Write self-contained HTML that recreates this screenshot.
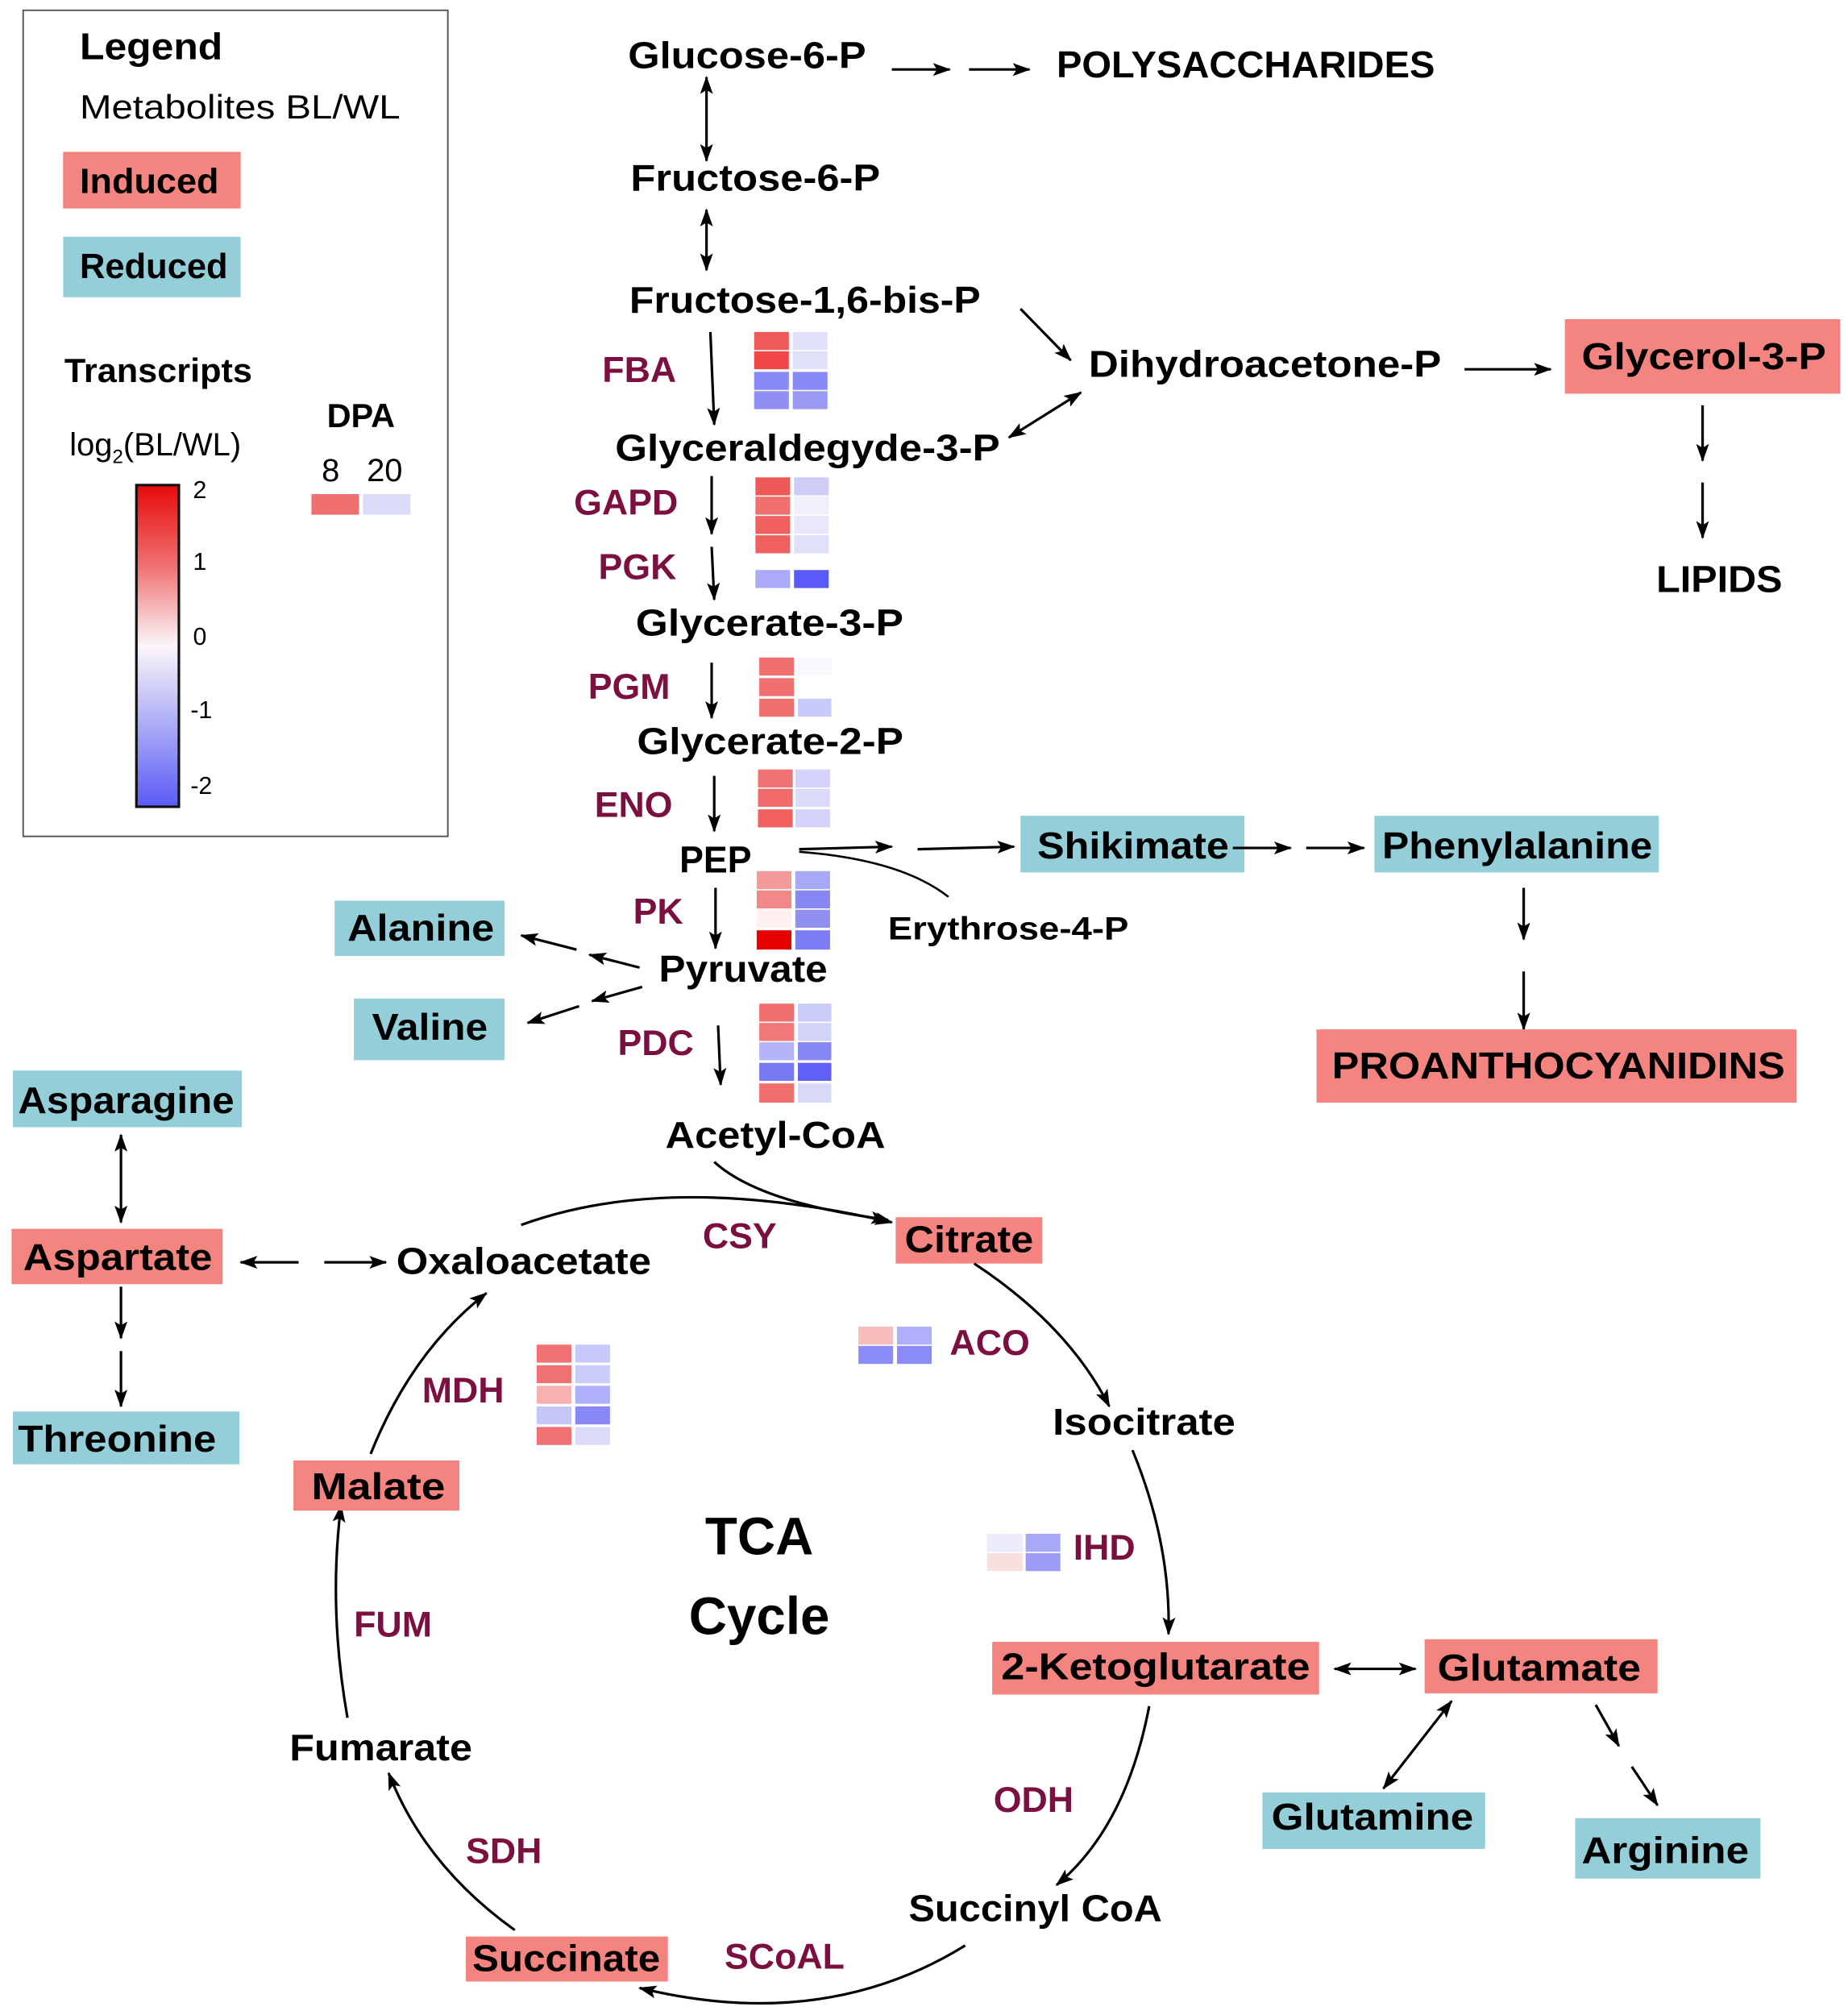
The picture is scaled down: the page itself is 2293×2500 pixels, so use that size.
<!DOCTYPE html>
<html><head><meta charset="utf-8"><style>
html,body{margin:0;padding:0;background:#fff}
svg{display:block}
text{font-family:"Liberation Sans",sans-serif;font-weight:bold;fill:#000}
.m{font-size:29px}
.e{font-size:28px;fill:#7b1040}
.n{font-weight:normal}
.a{fill:none;stroke:#000;stroke-width:2;marker-end:url(#ah)}
.d{fill:none;stroke:#000;stroke-width:2;marker-end:url(#ah);marker-start:url(#ah)}
.R{fill:#f4847f}.B{fill:#94ced8}
</style></head><body>
<svg width="2293" height="2500" viewBox="0 0 1436 1566" preserveAspectRatio="none" xmlns="http://www.w3.org/2000/svg">
<defs>
<marker id="ah" markerUnits="userSpaceOnUse" markerWidth="16" markerHeight="12" refX="13" refY="5" orient="auto-start-reverse"><path d="M0,0 L14,5 L0,10 L3,5 z" fill="#000"/></marker>
<linearGradient id="cb" x1="0" y1="0" x2="0" y2="1">
<stop offset="0" stop-color="#e80a0a"/><stop offset="0.25" stop-color="#f07070"/><stop offset="0.5" stop-color="#fbf6fa"/><stop offset="0.75" stop-color="#aaaaf6"/><stop offset="1" stop-color="#5a5af6"/></linearGradient>
</defs>

<!-- Legend -->
<rect x="18" y="8" width="330" height="642" fill="none" stroke="#555" stroke-width="1.2"/>
<text x="62" y="46" font-size="29" textLength="111" lengthAdjust="spacingAndGlyphs">Legend</text>
<text x="62" y="92" font-size="26" class="n" textLength="249" lengthAdjust="spacingAndGlyphs">Metabolites BL/WL</text>
<rect x="49" y="118" width="138" height="44" class="R"/><text x="62" y="150" font-size="27" textLength="108" lengthAdjust="spacingAndGlyphs">Induced</text>
<rect x="49" y="184" width="138" height="47" class="B"/><text x="62" y="216" font-size="27" textLength="115" lengthAdjust="spacingAndGlyphs">Reduced</text>
<text x="50" y="297" font-size="26" textLength="146" lengthAdjust="spacingAndGlyphs">Transcripts</text>
<text x="54" y="354" font-size="25" class="n">log<tspan font-size="15" dy="6">2</tspan><tspan dy="-6">(BL/WL)</tspan></text>
<rect x="106" y="377" width="33" height="250" fill="url(#cb)" stroke="#111" stroke-width="2"/>
<g font-size="19"><text x="150" y="387" class="n">2</text><text x="150" y="443" class="n">1</text><text x="150" y="501" class="n">0</text><text x="148" y="558" class="n">-1</text><text x="148" y="617" class="n">-2</text></g>
<text x="254" y="332" font-size="26">DPA</text>
<text x="250" y="374" font-size="25" class="n">8</text><text x="285" y="374" font-size="25" class="n">20</text>
<rect x="242" y="384" width="37" height="16" fill="#f07070"/><rect x="282" y="384" width="37" height="16" fill="#dcdcf8"/>

<!-- Glycolysis -->
<g lengthAdjust="spacingAndGlyphs">
<text x="488" y="53" class="m" textLength="185" lengthAdjust="spacingAndGlyphs">Glucose-6-P</text>
<path class="a" d="M693,54 L738,54"/><path class="a" d="M753,54 L800,54"/>
<text x="821" y="60" class="m" textLength="294" lengthAdjust="spacingAndGlyphs">POLYSACCHARIDES</text>
<path class="d" d="M549,60 L549,125"/>
<text x="490" y="148" class="m" textLength="194" lengthAdjust="spacingAndGlyphs">Fructose-6-P</text>
<path class="d" d="M549,163 L549,210"/>
<text x="489" y="243" class="m" textLength="273" lengthAdjust="spacingAndGlyphs">Fructose-1,6-bis-P</text>
<path class="a" d="M793,240 L832,280"/>
<text x="846" y="293" class="m" textLength="274" lengthAdjust="spacingAndGlyphs">Dihydroacetone-P</text>
<path class="a" d="M1138,287 L1205,287"/>
<rect x="1216" y="248" width="214" height="58" class="R"/><text x="1229" y="287" class="m" textLength="190" lengthAdjust="spacingAndGlyphs">Glycerol-3-P</text>
<path class="a" d="M1323,315 L1323,358"/><path class="a" d="M1323,375 L1323,418"/>
<text x="1287" y="460" class="m" textLength="98" lengthAdjust="spacingAndGlyphs">LIPIDS</text>
<text x="468" y="297" class="e">FBA</text>
<path class="a" d="M552,258 L555,330"/>
<text x="478" y="358" class="m" textLength="299" lengthAdjust="spacingAndGlyphs">Glyceraldegyde-3-P</text>
<path class="d" d="M784,340 L840,305"/>
<text x="446" y="400" class="e">GAPD</text>
<path class="a" d="M553,370 L553,415"/>
<text x="465" y="450" class="e">PGK</text>
<path class="a" d="M553,425 L555,466"/>
<text x="494" y="494" class="m" textLength="208" lengthAdjust="spacingAndGlyphs">Glycerate-3-P</text>
<text x="457" y="543" class="e">PGM</text>
<path class="a" d="M553,515 L553,558"/>
<text x="495" y="586" class="m" textLength="207" lengthAdjust="spacingAndGlyphs">Glycerate-2-P</text>
<text x="462" y="635" class="e">ENO</text>
<path class="a" d="M555,603 L555,646"/>
<text x="528" y="678" class="m" textLength="56" lengthAdjust="spacingAndGlyphs">PEP</text>
<path class="a" d="M621,660 L693,658"/><path class="a" d="M713,660 L788,658"/>
<path d="M621,662 Q700,668 737,697" fill="none" stroke="#000" stroke-width="1.6"/>
<text x="690" y="730" font-size="25" textLength="187" lengthAdjust="spacingAndGlyphs">Erythrose-4-P</text>
<rect x="793" y="634" width="174" height="44" class="B"/><text x="806" y="667" class="m" textLength="149" lengthAdjust="spacingAndGlyphs">Shikimate</text>
<path class="a" d="M958,659 L1003,659"/><path class="a" d="M1015,659 L1060,659"/>
<rect x="1068" y="634" width="221" height="44" class="B"/><text x="1074" y="667" class="m" textLength="210" lengthAdjust="spacingAndGlyphs">Phenylalanine</text>
<path class="a" d="M1184,690 L1184,730"/><path class="a" d="M1184,755 L1184,800"/>
<rect x="1023" y="800" width="373" height="57" class="R"/><text x="1035" y="838" class="m" textLength="352" lengthAdjust="spacingAndGlyphs">PROANTHOCYANIDINS</text>
<text x="492" y="718" class="e">PK</text>
<path class="a" d="M556,690 L556,737"/>
<text x="512" y="763" class="m" textLength="131" lengthAdjust="spacingAndGlyphs">Pyruvate</text>
<rect x="260" y="700" width="132" height="43" class="B"/><text x="270" y="731" class="m" textLength="114" lengthAdjust="spacingAndGlyphs">Alanine</text>
<path class="a" d="M497,752 L458,742"/><path class="a" d="M448,738 L405,727"/>
<rect x="275" y="776" width="117" height="48" class="B"/><text x="289" y="808" class="m" textLength="90" lengthAdjust="spacingAndGlyphs">Valine</text>
<path class="a" d="M499,767 L460,778"/><path class="a" d="M450,782 L410,795"/>
<text x="480" y="820" class="e">PDC</text>
<path class="a" d="M558,797 L560,843"/>
<text x="517" y="892" class="m" textLength="171" lengthAdjust="spacingAndGlyphs">Acetyl-CoA</text>
<path class="a" d="M555,903 Q590,935 690,948"/>
</g>

<!-- heatmaps -->
<g stroke="none">
<rect x="586" y="258" width="27" height="14" fill="#f05a5a"/><rect x="616" y="258" width="27" height="14" fill="#e0e0fa"/>
<rect x="586" y="273" width="27" height="14" fill="#f04848"/><rect x="616" y="273" width="27" height="14" fill="#e0e0f8"/>
<rect x="586" y="289" width="27" height="14" fill="#8888f8"/><rect x="616" y="289" width="27" height="14" fill="#8a8af6"/>
<rect x="586" y="304" width="27" height="14" fill="#9090f4"/><rect x="616" y="304" width="27" height="14" fill="#9a9af2"/>

<rect x="587" y="371" width="27" height="14" fill="#f05858"/><rect x="617" y="371" width="27" height="14" fill="#cdcdf8"/>
<rect x="587" y="386" width="27" height="14" fill="#f07070"/><rect x="617" y="386" width="27" height="14" fill="#f0f0fc"/>
<rect x="587" y="401" width="27" height="14" fill="#f06060"/><rect x="617" y="401" width="27" height="14" fill="#e8e8fa"/>
<rect x="587" y="416" width="27" height="14" fill="#f06060"/><rect x="617" y="416" width="27" height="14" fill="#e0e0f8"/>
<rect x="587" y="443" width="27" height="14" fill="#aaaaf8"/><rect x="617" y="443" width="27" height="14" fill="#5a5af8"/>

<rect x="590" y="511" width="27" height="14" fill="#f07070"/><rect x="620" y="511" width="26" height="14" fill="#f8f8fe"/>
<rect x="590" y="527" width="27" height="14" fill="#f07070"/>
<rect x="590" y="543" width="27" height="14" fill="#f07070"/><rect x="620" y="543" width="26" height="14" fill="#cacafa"/>

<rect x="589" y="598" width="27" height="14" fill="#f07272"/><rect x="618" y="598" width="27" height="14" fill="#d4d4fa"/>
<rect x="589" y="613" width="27" height="14" fill="#f06a6a"/><rect x="618" y="613" width="27" height="14" fill="#dadafa"/>
<rect x="589" y="629" width="27" height="14" fill="#f06060"/><rect x="618" y="629" width="27" height="14" fill="#d4d4fa"/>

<rect x="588" y="677" width="27" height="14" fill="#f49a9a"/><rect x="618" y="677" width="27" height="14" fill="#a8a8f8"/>
<rect x="588" y="692" width="27" height="14" fill="#f28888"/><rect x="618" y="692" width="27" height="14" fill="#8888f4"/>
<rect x="588" y="707" width="27" height="14" fill="#fef0f0"/><rect x="618" y="707" width="27" height="14" fill="#9090f0"/>
<rect x="588" y="723" width="27" height="15" fill="#e80000"/><rect x="618" y="723" width="27" height="15" fill="#7c7cf4"/>

<rect x="590" y="780" width="27" height="14" fill="#f07070"/><rect x="620" y="780" width="26" height="14" fill="#ccccf8"/>
<rect x="590" y="795" width="27" height="14" fill="#f07878"/><rect x="620" y="795" width="26" height="14" fill="#d4d4f8"/>
<rect x="590" y="810" width="27" height="14" fill="#b4b4f8"/><rect x="620" y="810" width="26" height="14" fill="#8888f4"/>
<rect x="590" y="826" width="27" height="14" fill="#7878f0"/><rect x="620" y="826" width="26" height="14" fill="#6060f4"/>
<rect x="590" y="842" width="27" height="15" fill="#f07070"/><rect x="620" y="842" width="26" height="15" fill="#d8d8f8"/>

<rect x="667" y="1031" width="27" height="14" fill="#f8bcbc"/><rect x="697" y="1031" width="27" height="14" fill="#b0b0fa"/>
<rect x="667" y="1046" width="27" height="14" fill="#8c8cf8"/><rect x="697" y="1046" width="27" height="14" fill="#8c8cf8"/>

<rect x="767" y="1192" width="28" height="14" fill="#ececfc"/><rect x="797" y="1192" width="27" height="14" fill="#a8a8f8"/>
<rect x="767" y="1207" width="28" height="14" fill="#f8e0e0"/><rect x="797" y="1207" width="27" height="14" fill="#9c9cf6"/>

<rect x="417" y="1045" width="27" height="14" fill="#f07272"/><rect x="447" y="1045" width="27" height="14" fill="#c8c8fa"/>
<rect x="417" y="1061" width="27" height="14" fill="#f07272"/><rect x="447" y="1061" width="27" height="14" fill="#ccccfa"/>
<rect x="417" y="1077" width="27" height="14" fill="#f8b0b0"/><rect x="447" y="1077" width="27" height="14" fill="#b0b0fa"/>
<rect x="417" y="1093" width="27" height="14" fill="#c6c6fa"/><rect x="447" y="1093" width="27" height="14" fill="#8888f6"/>
<rect x="417" y="1109" width="27" height="14" fill="#f07272"/><rect x="447" y="1109" width="27" height="14" fill="#dcdcfa"/>
</g>

<!-- TCA -->
<path class="a" d="M405,952 Q520,910 693,950"/>
<rect x="696" y="946" width="114" height="36" class="R"/><text x="703" y="973" class="m" textLength="100" lengthAdjust="spacingAndGlyphs">Citrate</text>
<text x="546" y="970" class="e">CSY</text>
<text x="738" y="1053" class="e">ACO</text>
<path class="a" d="M757,982 Q830,1030 862,1093"/>
<text x="818" y="1115" class="m" textLength="142" lengthAdjust="spacingAndGlyphs">Isocitrate</text>
<path class="a" d="M880,1127 Q910,1200 908,1270"/>
<text x="834" y="1212" class="e">IHD</text>
<rect x="771" y="1276" width="254" height="41" class="R"/><text x="778" y="1305" class="m" textLength="240" lengthAdjust="spacingAndGlyphs">2-Ketoglutarate</text>
<path class="d" d="M1037,1297 L1100,1297"/>
<rect x="1107" y="1274" width="181" height="42" class="R"/><text x="1117" y="1306" class="m" textLength="158" lengthAdjust="spacingAndGlyphs">Glutamate</text>
<path class="d" d="M1075,1390 L1128,1322"/>
<rect x="981" y="1393" width="173" height="44" class="B"/><text x="988" y="1422" class="m" textLength="157" lengthAdjust="spacingAndGlyphs">Glutamine</text>
<path class="a" d="M1240,1325 L1258,1357"/><path class="a" d="M1268,1373 L1288,1403"/>
<rect x="1224" y="1413" width="144" height="47" class="B"/><text x="1229" y="1448" class="m" textLength="130" lengthAdjust="spacingAndGlyphs">Arginine</text>
<path class="a" d="M893,1326 Q875,1420 821,1465"/>
<text x="772" y="1408" class="e">ODH</text>
<text x="706" y="1493" class="m" textLength="197" lengthAdjust="spacingAndGlyphs">Succinyl CoA</text>
<path class="a" d="M750,1512 Q640,1580 497,1545"/>
<text x="563" y="1530" class="e">SCoAL</text>
<rect x="362" y="1505" width="157" height="35" class="R"/><text x="367" y="1532" class="m" textLength="146" lengthAdjust="spacingAndGlyphs">Succinate</text>
<path class="a" d="M400,1500 Q330,1450 302,1378"/>
<text x="362" y="1448" class="e">SDH</text>
<text x="225" y="1368" class="m" textLength="142" lengthAdjust="spacingAndGlyphs">Fumarate</text>
<path class="a" d="M270,1335 Q255,1250 265,1170"/>
<text x="275" y="1272" class="e">FUM</text>
<rect x="228" y="1135" width="129" height="39" class="R"/><text x="242" y="1165" class="m" textLength="104" lengthAdjust="spacingAndGlyphs">Malate</text>
<path class="a" d="M288,1130 Q320,1050 378,1005"/>
<text x="328" y="1090" class="e">MDH</text>
<text x="308" y="990" class="m" textLength="198" lengthAdjust="spacingAndGlyphs">Oxaloacetate</text>
<text x="590" y="1208" font-size="41" text-anchor="middle">TCA</text>
<text x="590" y="1270" font-size="41" text-anchor="middle">Cycle</text>

<!-- amino acids left -->
<rect x="10" y="832" width="178" height="44" class="B"/><text x="14" y="865" class="m" textLength="168" lengthAdjust="spacingAndGlyphs">Asparagine</text>
<path class="d" d="M94,882 L94,950"/>
<rect x="9" y="955" width="164" height="43" class="R"/><text x="18" y="987" class="m" textLength="147" lengthAdjust="spacingAndGlyphs">Aspartate</text>
<path class="a" d="M232,981 L187,981"/><path class="a" d="M252,981 L300,981"/>
<path class="a" d="M94,1000 L94,1040"/><path class="a" d="M94,1050 L94,1093"/>
<rect x="10" y="1097" width="176" height="41" class="B"/><text x="14" y="1128" class="m" textLength="154" lengthAdjust="spacingAndGlyphs">Threonine</text>
</svg>
</body></html>
